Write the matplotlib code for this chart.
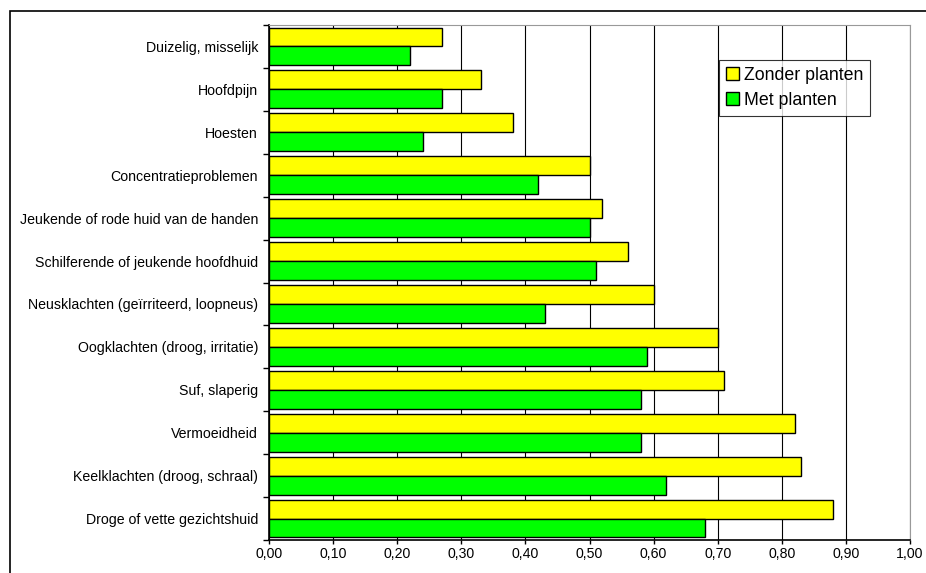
import matplotlib
matplotlib.use("Agg")
import matplotlib.pyplot as plt
from matplotlib.patches import Rectangle
from matplotlib.ticker import FuncFormatter, MultipleLocator
import numpy as np

plt.rcParams['font.family'] = ['Liberation Sans', 'DejaVu Sans']

categories = [
    "Duizelig, misselijk",
    "Hoofdpijn",
    "Hoesten",
    "Concentratieproblemen",
    "Jeukende of rode huid van de handen",
    "Schilferende of jeukende hoofdhuid",
    "Neusklachten (geïrriteerd, loopneus)",
    "Oogklachten (droog, irritatie)",
    "Suf, slaperig",
    "Vermoeidheid",
    "Keelklachten (droog, schraal)",
    "Droge of vette gezichtshuid",
]
zonder = [0.27, 0.33, 0.38, 0.50, 0.52, 0.56, 0.60, 0.70, 0.71, 0.82, 0.83, 0.88]
met = [0.22, 0.27, 0.24, 0.42, 0.50, 0.51, 0.43, 0.59, 0.58, 0.58, 0.62, 0.68]

fig = plt.figure(figsize=(9.26, 5.73), dpi=100)
ax = fig.add_axes([269 / 926, 1 - 540 / 573, (910 - 269) / 926, (540 - 25) / 573])

# outer chart frame (cut off at right and bottom like the original)
fig.patches.append(Rectangle((10 / 926, -0.05), 1.0, 1 - 11 / 573 + 0.05,
                             transform=fig.transFigure, fill=False,
                             edgecolor="black", linewidth=1.2))

y = np.arange(len(categories))
h = 0.44
ax.barh(y - h / 2, zonder, height=h, color="#ffff00", edgecolor="black",
        linewidth=1.0, label="Zonder planten", zorder=3)
ax.barh(y + h / 2, met, height=h, color="#00ff00", edgecolor="black",
        linewidth=1.0, label="Met planten", zorder=3)

ax.set_ylim(len(categories) - 0.5, -0.5)
ax.set_xlim(0, 1.0)
ax.xaxis.set_major_locator(MultipleLocator(0.1))
ax.xaxis.set_major_formatter(FuncFormatter(lambda v, p: f"{v:.2f}".replace(".", ",")))
ax.set_yticks(y)
ax.set_yticklabels(categories)
ax.set_yticks(np.arange(len(categories) + 1) - 0.5, minor=True)
ax.tick_params(axis="y", which="major", length=0, pad=8, labelsize=10.2)
ax.tick_params(axis="y", which="minor", length=4, width=1)
ax.tick_params(axis="x", length=3, width=1, labelsize=10.2, pad=2)

ax.grid(axis="x", color="black", linewidth=0.8, zorder=0)
for s in ["top", "right"]:
    ax.spines[s].set_color("#999999")
for s in ["left", "bottom"]:
    ax.spines[s].set_linewidth(1.2)

leg = ax.legend(loc="upper left", bbox_to_anchor=((719 - 269) / 641, 1 - (60 - 25) / 515),
                fontsize=12.8, frameon=True, fancybox=False, handlelength=0.75,
                handleheight=0.75, handletextpad=0.25, borderpad=0.4, labelspacing=0.45,
                borderaxespad=0)
leg.get_frame().set_edgecolor("black")
leg.get_frame().set_linewidth(0.8)

fig.savefig("out.png", dpi=100)
